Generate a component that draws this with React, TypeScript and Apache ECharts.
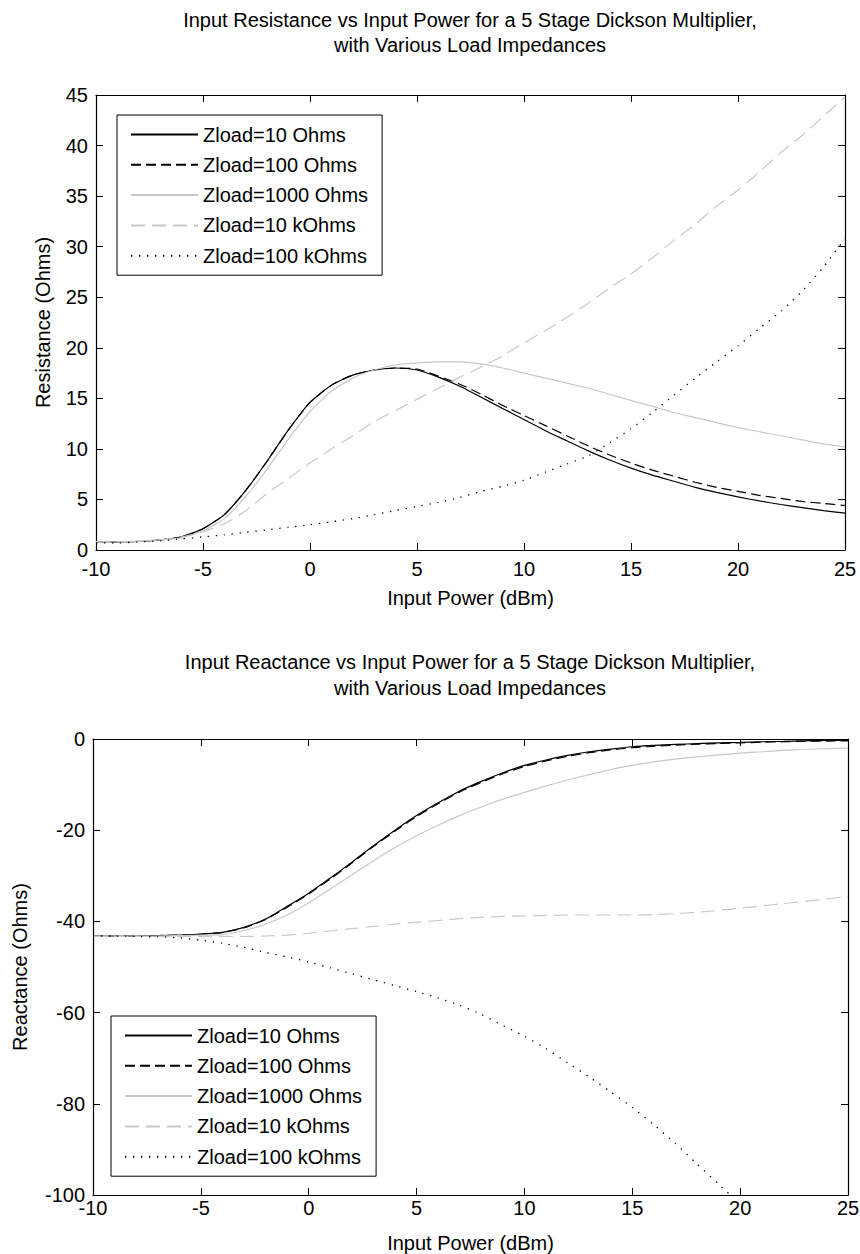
import React, { useEffect, useRef } from "react";
import * as echarts from "echarts";

const FONT = '"Liberation Sans", Arial, Helvetica, sans-serif';

const xValues = [-10, -9, -8, -7, -6, -5, -4, -3, -2, -1, 0, 1, 2, 3, 4, 5, 6, 7, 8, 9, 10, 11, 12, 13, 14, 15, 16, 17, 18, 19, 20, 21, 22, 23, 24, 25];

const seriesNames = ["Zload=10 Ohms", "Zload=100 Ohms", "Zload=1000 Ohms", "Zload=10 kOhms", "Zload=100 kOhms"];

// Resistance (Ohms)
const res10 = [0.8, 0.8, 0.85, 1.0, 1.3, 2.1, 3.5, 5.9, 8.8, 11.9, 14.6, 16.3, 17.3, 17.8, 18.0, 17.8, 17.1, 16.2, 15.1, 14.0, 12.9, 11.8, 10.8, 9.8, 8.9, 8.1, 7.4, 6.8, 6.2, 5.7, 5.25, 4.85, 4.5, 4.2, 3.9, 3.65];
const res100 = [0.8, 0.8, 0.85, 1.0, 1.3, 2.1, 3.5, 5.9, 8.8, 11.9, 14.6, 16.3, 17.3, 17.8, 18.0, 17.9, 17.2, 16.4, 15.4, 14.3, 13.3, 12.3, 11.3, 10.3, 9.4, 8.6, 7.9, 7.3, 6.7, 6.2, 5.8, 5.4, 5.1, 4.8, 4.6, 4.4];
const res1000 = [0.8, 0.8, 0.85, 1.0, 1.2, 1.9, 3.1, 5.3, 8.0, 11.0, 13.7, 15.7, 17.0, 17.8, 18.3, 18.5, 18.6, 18.6, 18.4, 18.0, 17.5, 17.0, 16.5, 16.0, 15.4, 14.8, 14.2, 13.6, 13.1, 12.6, 12.1, 11.7, 11.3, 10.9, 10.5, 10.2];
const res10k = [0.8, 0.8, 0.9, 1.0, 1.3, 1.8, 2.6, 3.9, 5.6, 7.1, 8.6, 10.0, 11.3, 12.7, 13.8, 14.9, 16.0, 17.1, 18.1, 19.2, 20.5, 21.7, 23.0, 24.4, 25.9, 27.3, 28.9, 30.6, 32.2, 34.0, 35.6, 37.4, 39.3, 41.0, 42.9, 44.8];
const res100k = [0.7, 0.7, 0.8, 0.9, 1.1, 1.3, 1.5, 1.75, 2.0, 2.25, 2.5, 2.8, 3.1, 3.5, 3.9, 4.3, 4.7, 5.2, 5.8, 6.3, 6.9, 7.7, 8.5, 9.3, 10.6, 12.0, 13.6, 15.3, 17.0, 18.6, 20.2, 21.9, 23.6, 25.6, 28.0, 30.8];

// Reactance (Ohms)
const rea10 = [-43.2, -43.2, -43.2, -43.1, -43.0, -42.8, -42.4, -41.3, -39.5, -36.7, -33.8, -30.5, -27.0, -23.4, -20.0, -16.8, -14.0, -11.4, -9.3, -7.4, -5.8, -4.6, -3.6, -2.8, -2.2, -1.7, -1.4, -1.2, -1.0, -0.85, -0.75, -0.6, -0.5, -0.4, -0.3, -0.3];
const rea100 = [-43.2, -43.2, -43.2, -43.1, -43.0, -42.8, -42.4, -41.4, -39.6, -36.9, -34.0, -30.7, -27.2, -23.6, -20.2, -17.0, -14.2, -11.6, -9.5, -7.6, -6.0, -4.8, -3.8, -3.0, -2.4, -1.9, -1.6, -1.35, -1.15, -1.0, -0.85, -0.7, -0.6, -0.5, -0.45, -0.4];
const rea1000 = [-43.2, -43.2, -43.2, -43.2, -43.1, -43.0, -42.9, -42.0, -40.6, -38.6, -35.9, -32.9, -29.8, -26.7, -23.8, -21.2, -18.9, -16.8, -14.9, -13.2, -11.7, -10.3, -9.0, -7.8, -6.7, -5.8, -5.0, -4.4, -3.9, -3.5, -3.1, -2.8, -2.5, -2.3, -2.1, -2.0];
const rea10k = [-43.3, -43.3, -43.3, -43.3, -43.3, -43.3, -43.3, -43.3, -43.2, -43.0, -42.6, -42.1, -41.6, -41.1, -40.6, -40.2, -39.8, -39.4, -39.1, -38.9, -38.8, -38.7, -38.6, -38.6, -38.6, -38.6, -38.5, -38.3, -38.0, -37.6, -37.1, -36.6, -36.1, -35.6, -35.1, -34.5];
const rea100k = [-43.2, -43.2, -43.3, -43.4, -43.6, -44.1, -44.8, -45.7, -46.8, -47.8, -48.9, -50.2, -51.5, -52.8, -54.1, -55.4, -56.8, -58.4, -60.4, -62.8, -65.2, -67.9, -71.0, -74.1, -77.4, -80.8, -84.6, -88.7, -93.2, -97.6, -102.0, null, null, null, null, null];

const xTicks = [-10, -5, 0, 5, 10, 15, 20, 25];
const resTicks = [0, 5, 10, 15, 20, 25, 30, 35, 40, 45];
const reaTicks = [-100, -80, -60, -40, -20, 0];

const titles = [
  ["Input Resistance vs Input Power for a 5 Stage Dickson Multiplier,", "with Various Load Impedances"],
  ["Input Reactance vs Input Power for a 5 Stage Dickson Multiplier,", "with Various Load Impedances"],
];
const xName = "Input Power (dBm)";
const yNames = ["Resistance (Ohms)", "Reactance (Ohms)"];

const GRAY = "#c8c8c8";
const styles = [
  { color: "#000", type: "solid", width: 1.2 },
  { color: "#000", type: [10, 5], width: 1.2 },
  { color: GRAY, type: "solid", width: 1.2 },
  { color: GRAY, type: [14, 7], width: 1.2 },
  { color: "#000", type: [1.3, 6.7], width: 1.3 },
];

function pairs(vals: (number | null)[]) {
  const out: number[][] = [];
  vals.forEach((v, i) => {
    if (v !== null) out.push([xValues[i], v]);
  });
  return out;
}

export default function App() {
  const ref = useRef<HTMLDivElement>(null);
  useEffect(() => {
    if (!ref.current) return;
    const chart = echarts.init(ref.current, null, { renderer: "svg" });
    const grids = [
      { left: 96, top: 95, width: 749, height: 455 },
      { left: 93, top: 739, width: 755, height: 456 },
    ];
    const yRanges = [
      { min: resTicks[0], max: resTicks[resTicks.length - 1], interval: resTicks[1] - resTicks[0] },
      { min: reaTicks[0], max: reaTicks[reaTicks.length - 1], interval: reaTicks[1] - reaTicks[0] },
    ];
    const xRange = { min: xTicks[0], max: xTicks[xTicks.length - 1], interval: xTicks[1] - xTicks[0] };
    const yNameGaps = [43, 63];
    const xNameGaps = [38, 38];
    const xLabelMargins = [9, 3];
    const tickCommon = { show: true, inside: true, length: 7, lineStyle: { color: "#000", width: 1 } };
    const lineCommon = { show: true, onZero: false, lineStyle: { color: "#000", width: 1.2 } };
    const labelCommon = { color: "#000", fontSize: 20, fontFamily: FONT };

    const xAxis: any[] = [];
    const yAxis: any[] = [];
    [0, 1].forEach((g) => {
      xAxis.push({
        type: "value", gridIndex: g, ...xRange, position: "bottom",
        axisLine: lineCommon, axisTick: tickCommon, splitLine: { show: false },
        axisLabel: { ...labelCommon, margin: xLabelMargins[g], showMinLabel: true, showMaxLabel: true },
        name: xName, nameLocation: "middle", nameGap: xNameGaps[g],
        nameTextStyle: { ...labelCommon },
      });
      xAxis.push({
        type: "value", gridIndex: g, ...xRange, position: "top",
        axisLine: lineCommon, axisTick: tickCommon, splitLine: { show: false },
        axisLabel: { show: false },
      });
      yAxis.push({
        type: "value", gridIndex: g, ...yRanges[g], position: "left",
        axisLine: lineCommon, axisTick: tickCommon, splitLine: { show: false },
        axisLabel: { ...labelCommon, margin: 8, showMinLabel: true, showMaxLabel: true },
        name: yNames[g], nameLocation: "middle", nameGap: yNameGaps[g],
        nameTextStyle: { ...labelCommon },
      });
      yAxis.push({
        type: "value", gridIndex: g, ...yRanges[g], position: "right",
        axisLine: lineCommon, axisTick: tickCommon, splitLine: { show: false },
        axisLabel: { show: false },
      });
    });

    const allData = [
      [res10, res100, res1000, res10k, res100k],
      [rea10, rea100, rea1000, rea10k, rea100k],
    ];
    const series: any[] = [];
    [0, 1].forEach((g) => {
      allData[g].forEach((vals, i) => {
        series.push({
          type: "line", name: seriesNames[i], xAxisIndex: g * 2, yAxisIndex: g * 2,
          data: pairs(vals), symbol: "none", smooth: 0.2, clip: true,
          lineStyle: { ...styles[i] }, itemStyle: { color: styles[i].color },
          emphasis: { disabled: true },
        });
      });
    });

    const legendPos = [
      { left: 117, top: 115 },
      { left: 111, top: 1016 },
    ];
    const legend = legendPos.map((p) => ({
      ...p, orient: "vertical", data: seriesNames, itemWidth: 67, itemHeight: 2, itemGap: 10.3,
      padding: [9.5, 14, 9.5, 13], borderColor: "#000", borderWidth: 1, backgroundColor: "#fff",
      selectedMode: false,
      itemStyle: { opacity: 0 },
      textStyle: { color: "#000", fontSize: 20, fontFamily: FONT, lineHeight: 20 },
    }));

    const graphic: any[] = [];
    const titleY = [[20, 45], [662, 688]];
    [0, 1].forEach((g) => {
      titles[g].forEach((t, k) => {
        graphic.push({
          type: "text", x: 470, y: titleY[g][k],
          style: { text: t, fill: "#000", fontSize: 20, fontFamily: FONT, align: "center", verticalAlign: "middle" },
        });
      });
    });

    chart.setOption({
      animation: false,
      backgroundColor: "#fff",
      grid: grids.map((g) => ({ ...g, outerBoundsMode: "none", containLabel: false })),
      xAxis, yAxis, series, legend, graphic,
    });
    return () => chart.dispose();
  }, []);
  return <div ref={ref} style={{ position: "absolute", left: 0, top: 0, width: 860, height: 1254 }} />;
}
